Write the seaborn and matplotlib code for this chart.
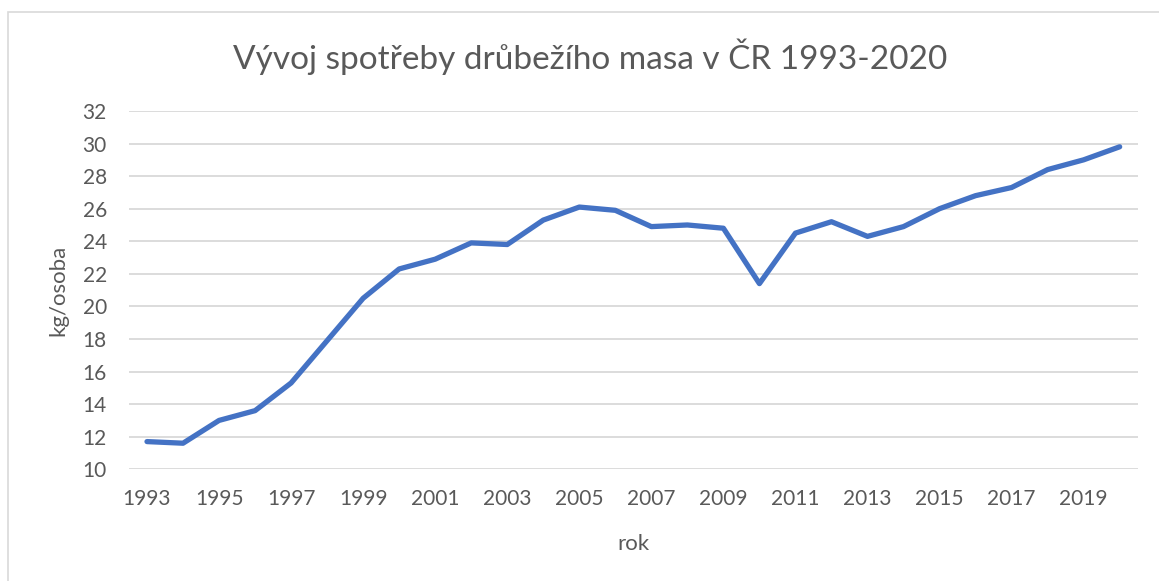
import pandas as pd
import matplotlib.pyplot as plt
import matplotlib.patches as mpatches
import seaborn as sns

# Data
years = list(range(1993, 2021))
consumption = [11.7, 11.6, 13.0, 13.6, 15.3, 17.9, 20.5, 22.3, 22.9, 23.9,
               23.8, 25.3, 26.1, 25.9, 24.9, 25.0, 24.8, 21.4, 24.5, 25.2,
               24.3, 24.9, 26.0, 26.8, 27.3, 28.4, 29.0, 29.8]
y_ticks = list(range(10, 33, 2))
x_ticks = list(range(1993, 2020, 2))

df = pd.DataFrame({'rok': years, 'spotreba': consumption})

sns.set_style('white')
plt.rcParams['font.family'] = ['Lato', 'DejaVu Sans']

TEXT_COL = '#595959'
GRID_COL = '#d9d9d9'
LINE_COL = '#4472C4'

fig = plt.figure(figsize=(11.59, 5.81), dpi=100, facecolor='white')
ax = fig.add_axes([0.1113, 0.1923, 0.8703, 0.6167])

# chart border like the Excel chart area
fig.patches.append(mpatches.Rectangle((8 / 1159, -0.05), 1.2, 1 - 12 / 581 + 0.05,
                                      transform=fig.transFigure, fill=False,
                                      edgecolor=GRID_COL, linewidth=1.2))

sns.lineplot(data=df, x='rok', y='spotreba', ax=ax, color=LINE_COL,
             linewidth=3.8, solid_capstyle='round', solid_joinstyle='round')

ax.set_xlim(1992.5, 2020.5)
ax.set_ylim(10, 32)
ax.set_yticks(y_ticks)
ax.set_xticks(x_ticks)
ax.yaxis.grid(True, color=GRID_COL, linewidth=1.3)
ax.set_axisbelow(True)
for s in ax.spines.values():
    s.set_visible(False)
ax.tick_params(axis='both', length=0, labelsize=15, colors=TEXT_COL)
ax.tick_params(axis='x', pad=14)
ax.tick_params(axis='y', pad=16)

ax.set_xlabel('rok', fontsize=16, color=TEXT_COL, labelpad=18)
ax.set_ylabel('kg/osoba', fontsize=16, color=TEXT_COL, labelpad=10)
fig.text(0.509, 0.903, 'Vývoj spotřeby drůbežího masa v ČR 1993-2020',
         ha='center', va='center', fontsize=24, color=TEXT_COL)

plt.savefig('out.png', dpi=100)
